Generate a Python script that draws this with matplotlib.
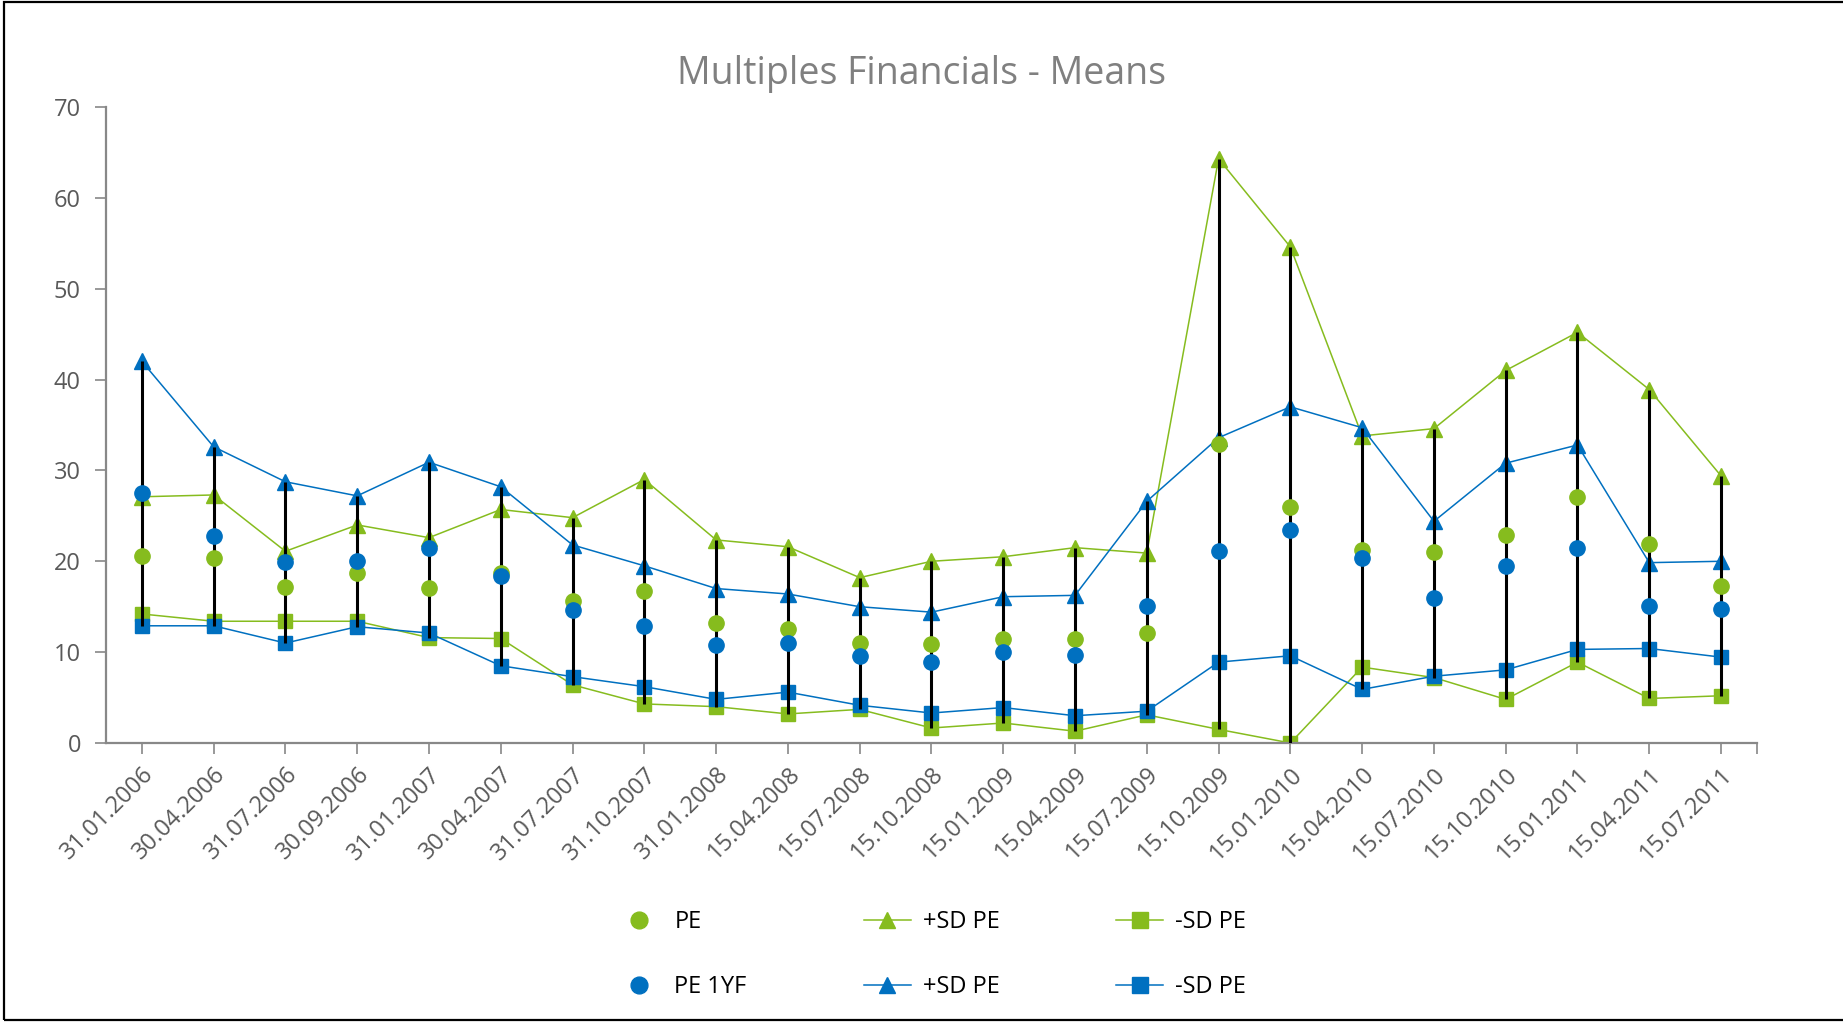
import matplotlib.pyplot as plt
import numpy as np
from matplotlib.patches import Rectangle

plt.rcParams["font.family"] = ["Open Sans", "DejaVu Sans"]

dates = [
    "31.01.2006", "30.04.2006", "31.07.2006", "30.09.2006", "31.01.2007",
    "30.04.2007", "31.07.2007", "31.10.2007", "31.01.2008", "15.04.2008",
    "15.07.2008", "15.10.2008", "15.01.2009", "15.04.2009", "15.07.2009",
    "15.10.2009", "15.01.2010", "15.04.2010", "15.07.2010", "15.10.2010",
    "15.01.2011", "15.04.2011", "15.07.2011",
]

pe = [20.6, 20.4, 17.2, 18.7, 17.1, 18.75, 15.6, 16.7, 13.2, 12.5, 11.0, 10.85,
      11.4, 11.4, 12.1, 32.9, 26.0, 21.2, 21.0, 22.9, 27.1, 21.9, 17.3]
pe_plus = [27.1, 27.3, 21.1, 24.0, 22.6, 25.7, 24.8, 29.0, 22.35, 21.6, 18.2, 20.0,
           20.5, 21.5, 20.9, 64.3, 54.6, 33.8, 34.6, 41.0, 45.2, 38.9, 29.4]
pe_minus = [14.2, 13.4, 13.4, 13.4, 11.6, 11.5, 6.4, 4.3, 4.0, 3.2, 3.7, 1.65,
            2.2, 1.3, 3.1, 1.5, 0.0, 8.35, 7.2, 4.8, 8.9, 4.9, 5.2]

pe1yf = [27.5, 22.8, 19.9, 20.0, 21.5, 18.4, 14.6, 12.9, 10.8, 11.0, 9.6, 8.9,
         10.0, 9.7, 15.1, 21.1, 23.4, 20.4, 15.96, 19.5, 21.5, 15.1, 14.7]
pe1yf_plus = [42.0, 32.6, 28.75, 27.2, 30.9, 28.2, 21.8, 19.5, 17.0, 16.4, 15.0, 14.4,
              16.1, 16.25, 26.6, 33.6, 37.0, 34.7, 24.4, 30.8, 32.8, 19.85, 20.0]
pe1yf_minus = [12.9, 12.9, 11.0, 12.8, 12.1, 8.5, 7.3, 6.2, 4.8, 5.6, 4.15, 3.3,
               3.9, 3.0, 3.5, 8.9, 9.6, 5.9, 7.35, 8.05, 10.3, 10.4, 9.45]

green = "#86BC1E"
blue = "#0070C0"

fig = plt.figure(figsize=(18.43, 10.22), dpi=100)
ax = fig.add_axes([0.0575, 0.273, 0.8958, 0.6223])

x = np.arange(len(dates))
all_series = np.array([pe, pe_plus, pe_minus, pe1yf, pe1yf_plus, pe1yf_minus])
ax.vlines(x, all_series.min(axis=0), all_series.max(axis=0), color="black",
          linewidth=2.2, zorder=3)

ms = 11
ax.plot(x, pe, linestyle="none", marker="o", color=green, markersize=ms, zorder=4, label="PE")
ax.plot(x, pe1yf, linestyle="none", marker="o", color=blue, markersize=ms, zorder=4, label="PE 1YF")
ax.plot(x, pe_plus, marker="^", color=green, linewidth=1.1, markersize=ms, zorder=2, label="+SD PE")
ax.plot(x, pe1yf_plus, marker="^", color=blue, linewidth=1.1, markersize=ms, zorder=2, label="+SD PE")
ax.plot(x, pe_minus, marker="s", color=green, linewidth=1.1, markersize=ms - 1, zorder=2, label="-SD PE")
ax.plot(x, pe1yf_minus, marker="s", color=blue, linewidth=1.1, markersize=ms - 1, zorder=2, label="-SD PE")

ax.set_xlim(-0.5, len(dates) - 0.5)
ax.set_ylim(0, 70)
ax.set_yticks(range(0, 71, 10))
ax.set_xticks(x)
ax.set_xticklabels(dates, rotation=45, ha="right", rotation_mode="anchor")
ax.set_xticks([len(dates) - 0.5], minor=True)

for side in ["top", "right"]:
    ax.spines[side].set_visible(False)
for side in ["left", "bottom"]:
    ax.spines[side].set_color("#888888")
    ax.spines[side].set_linewidth(1.6)
ax.tick_params(axis="both", which="both", colors="#888888", length=8, width=1.2,
               labelcolor="#595959", labelsize=17)
ax.tick_params(axis="x", pad=6)
ax.tick_params(axis="y", pad=10)

fig.text(0.5, 0.9276, "Multiples Financials - Means", ha="center", va="center",
         fontsize=27, color="#808080")

fig.legend(loc="center", bbox_to_anchor=(0.505, 0.066), ncol=3, frameon=False,
           fontsize=17, labelspacing=1.75, columnspacing=4.95, handlelength=2.0,
           handletextpad=0.5, markerscale=1.1)

fig.patches.append(Rectangle((0.002, 0.002), 1.2, 0.996, transform=fig.transFigure,
                             fill=False, edgecolor="black", linewidth=1.6))

fig.savefig("out.png", dpi=100)
